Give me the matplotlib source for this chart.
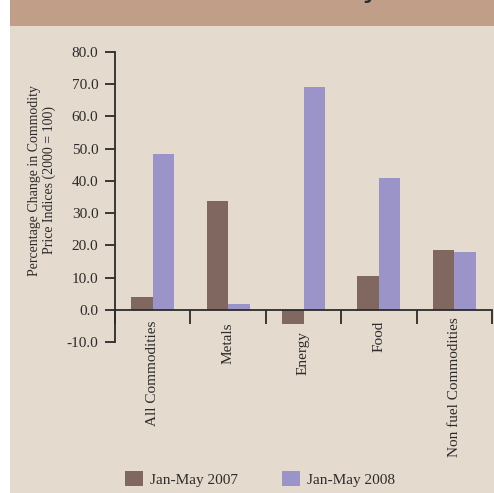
import numpy as np
import matplotlib.pyplot as plt
import matplotlib.transforms as mtransforms
from matplotlib.patches import Rectangle

categories = ['All Commodities', 'Metals', 'Energy', 'Food', 'Non fuel Commodities']
jan_may_2007 = [4.0, 33.8, -4.3, 10.5, 18.6]
jan_may_2008 = [48.2, 1.9, 69.2, 41.0, 18.0]
series_names = ['Jan-May 2007', 'Jan-May 2008']
yticks = [-10, 0, 10, 20, 30, 40, 50, 60, 70, 80]

bg = '#e5dace'
band = '#c09e88'
brown = '#806860'
purple = '#9b94c8'
ink = '#2b2b2b'

plt.rcParams['font.family'] = ['Liberation Serif', 'DejaVu Serif']

W, H = 494, 493
fig = plt.figure(figsize=(W / 100, H / 100), dpi=100)
fig.patch.set_facecolor('white')

# page background and header band
fig.patches.append(Rectangle((10 / W, 0), 1 - 10 / W, 1 - 3 / H, transform=fig.transFigure,
                             facecolor=bg, edgecolor='none', zorder=-2))
fig.patches.append(Rectangle((10 / W, 1 - 26 / H), 1 - 10 / W, 26 / H, transform=fig.transFigure,
                             facecolor=band, edgecolor='none', zorder=-1))
# cut-off title text (only the descender shows)
fig.text(381 / W, 1 + 3 / H, 'Commodity', ha='right', va='baseline', fontsize=22,
         color=ink, family='DejaVu Sans')

ax = fig.add_axes([115 / W, 1 - 342 / H, (492 - 115) / W, (342 - 52) / H])
ax.set_facecolor('none')

x = np.arange(len(categories))
w = 0.285
ax.bar(x - w / 2, jan_may_2007, w, color=brown, label=series_names[0], zorder=2)
ax.bar(x + w / 2, jan_may_2008, w, color=purple, label=series_names[1], zorder=2)

ax.set_xlim(-0.5, len(categories) - 0.5)
ax.set_ylim(-10, 80)
ax.set_yticks(yticks)
ax.set_yticklabels([f'{v:.1f}' for v in yticks], fontsize=11, color=ink)
ax.tick_params(axis='y', length=7, width=1.3, color=ink, pad=5)

for s in ['top', 'right']:
    ax.spines[s].set_visible(False)
ax.spines['bottom'].set_position(('data', 0))
ax.spines['left'].set_color(ink)
ax.spines['bottom'].set_color(ink)
ax.spines['left'].set_linewidth(1.3)
ax.spines['bottom'].set_linewidth(1.3)

ax.set_xticks(x)
ax.set_xticklabels(categories, rotation=90, fontsize=11, color=ink, va='top')
ax.tick_params(axis='x', which='major', length=0, pad=8)
ax.set_xticks(np.arange(len(categories) + 1) - 0.5, minor=True)
ax.tick_params(axis='x', which='minor', length=10, width=1.3, color=ink, direction='out')

# nudge labels down a little where the reference does (Energy clears its negative bar)
label_drop_px = [0, 2, 10, 0, -4]
for lab, d in zip(ax.get_xticklabels(), label_drop_px):
    lab.set_transform(lab.get_transform() +
                      mtransforms.ScaledTranslation(0, -d / 100, fig.dpi_scale_trans))

fig.text(42 / W, 1 - 180 / H, 'Percentage Change in Commodity\nPrice Indices (2000 = 100)',
         rotation=90, ha='center', va='center', multialignment='center',
         fontsize=10, color=ink, linespacing=1.1)

fig.legend(loc='center', bbox_to_anchor=(260 / W, 1 - 479 / H), ncol=2, frameon=False,
           fontsize=11, handlelength=1.15, handleheight=1.15, columnspacing=2.9,
           handletextpad=0.45, labelcolor=ink)

fig.savefig('out.png', dpi=100, facecolor=fig.get_facecolor())
